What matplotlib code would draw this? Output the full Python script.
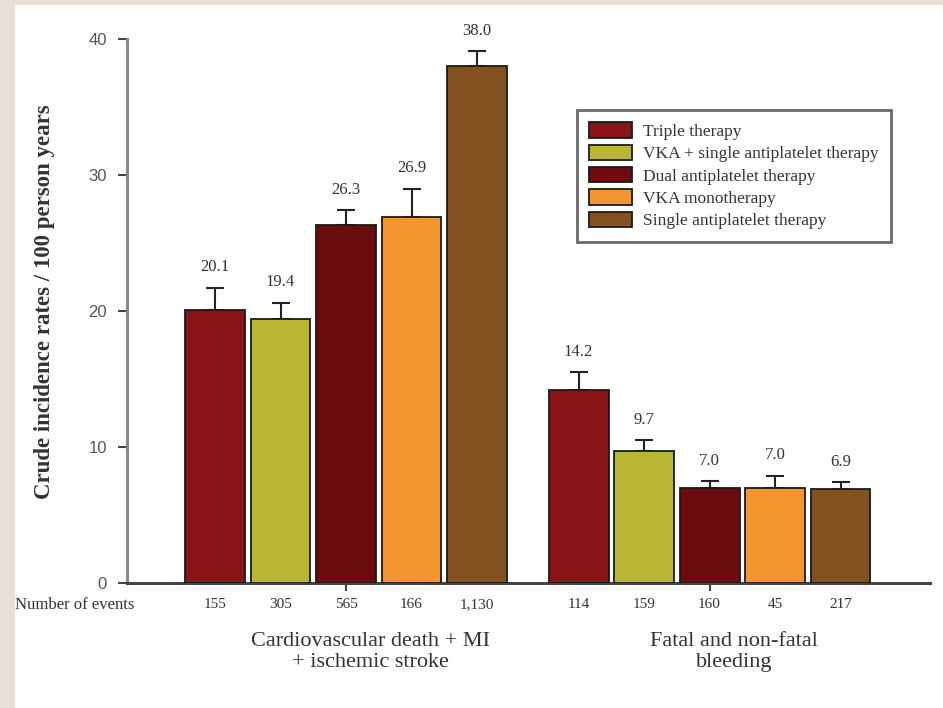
import numpy as np
import matplotlib
matplotlib.use("Agg")
import matplotlib.pyplot as plt
from matplotlib.patches import Rectangle, Patch

# Data
therapies = ["Triple therapy", "VKA + single antiplatelet therapy",
             "Dual antiplatelet therapy", "VKA monotherapy",
             "Single antiplatelet therapy"]
colors = ["#8a1518", "#b9b634", "#6c0c0f", "#f59530", "#835120"]
groups = ["Cardiovascular death + MI\n+ ischemic stroke", "Fatal and non-fatal\nbleeding"]

rates_cv = [20.1, 19.4, 26.3, 26.9, 38.0]
upper_cv = [21.7, 20.6, 27.4, 29.0, 39.1]
events_cv = ["155", "305", "565", "166", "1,130"]

rates_bl = [14.2, 9.7, 7.0, 7.0, 6.9]
upper_bl = [15.5, 10.5, 7.5, 7.9, 7.4]
events_bl = ["114", "159", "160", "45", "217"]

serif = "Liberation Serif"
sans = "Liberation Sans"

fig = plt.figure(figsize=(9.43, 7.08), dpi=100)
fig.patch.set_facecolor("#e7dfd8")
bg = Rectangle((15/943, 0), 1, 1 - 5/708, transform=fig.transFigure,
               facecolor="white", edgecolor="none", zorder=-10)
fig.patches.append(bg)

ax = fig.add_axes([127/943, 1 - 583/708, (930 - 127)/943, (583 - 39)/708])
ax.set_facecolor("none")

group_gap = 5.55
offsets = np.arange(5) - 2
width = 0.915

for g, (rates, upper, events) in enumerate([(rates_cv, upper_cv, events_cv),
                                            (rates_bl, upper_bl, events_bl)]):
    xs = offsets + g * group_gap
    rates = np.array(rates)
    upper = np.array(upper)
    ax.bar(xs, rates, width=width, color=colors, edgecolor="#1a1a1a", linewidth=1.3, zorder=3)
    ax.errorbar(xs, rates, yerr=[np.zeros(5), upper - rates], fmt="none",
                ecolor="#222222", elinewidth=1.5, capsize=6.2, capthick=1.5, zorder=2)
    for x, r, u, ev in zip(xs, rates, upper, events):
        ax.text(x, u + 1.5, "%.1f" % r, ha="center", va="center",
                fontsize=12, family=serif, color="#333333")
        ax.text(x, -0.040, ev, transform=ax.get_xaxis_transform(), ha="center",
                va="center", fontsize=11, family=serif, color="#333333")
    # group names sit a little right of the group centre in the original
    ax.text(g * group_gap + 0.38, -0.127, groups[g], transform=ax.get_xaxis_transform(),
            ha="center", va="center", fontsize=16, family=serif, color="#333333",
            linespacing=1.1)

ax.set_xlim(-3.344, 8.916)
ax.set_ylim(0, 40)
ax.set_yticks([0, 10, 20, 30, 40])
ax.set_xticks([0, group_gap])
ax.set_xticklabels([])

for s in ["top", "right"]:
    ax.spines[s].set_visible(False)
ax.spines["left"].set_color("#8a8a8a")
ax.spines["left"].set_linewidth(2.2)
ax.spines["bottom"].set_color("#444444")
ax.spines["bottom"].set_linewidth(2.2)

ax.tick_params(axis="y", direction="out", length=6.5, width=1.5, color="#444444",
               labelsize=12, labelcolor="#555555", pad=8)
ax.tick_params(axis="x", direction="out", length=6, width=1.5, color="#444444")
for lbl in ax.get_yticklabels():
    lbl.set_family(sans)

fig.text(45/943, 1 - 302/708, "Crude incidence rates / 100 person years", rotation=90,
         ha="center", va="center", fontsize=16.5, fontweight="bold", family=serif,
         color="#333333")
fig.text(15/943, 1 - 605/708, "Number of events", ha="left", va="center",
         fontsize=12, family=serif, color="#333333")

handles = [Patch(facecolor=c, edgecolor="#1a1a1a", linewidth=1.3) for c in colors]
leg = ax.legend(handles, therapies, loc="upper left",
                bbox_to_anchor=(577/943, 1 - 110/708), bbox_transform=fig.transFigure,
                prop={"family": serif, "size": 12.5}, frameon=True, fancybox=False,
                handlelength=2.45, handleheight=1.0, labelspacing=0.27,
                handletextpad=0.65, borderpad=0.7, borderaxespad=0)
leg.get_frame().set_edgecolor("#444444")
leg.get_frame().set_linewidth(2)
for t in leg.get_texts():
    t.set_color("#333333")

fig.savefig("out.png", dpi=100, facecolor=fig.get_facecolor())
